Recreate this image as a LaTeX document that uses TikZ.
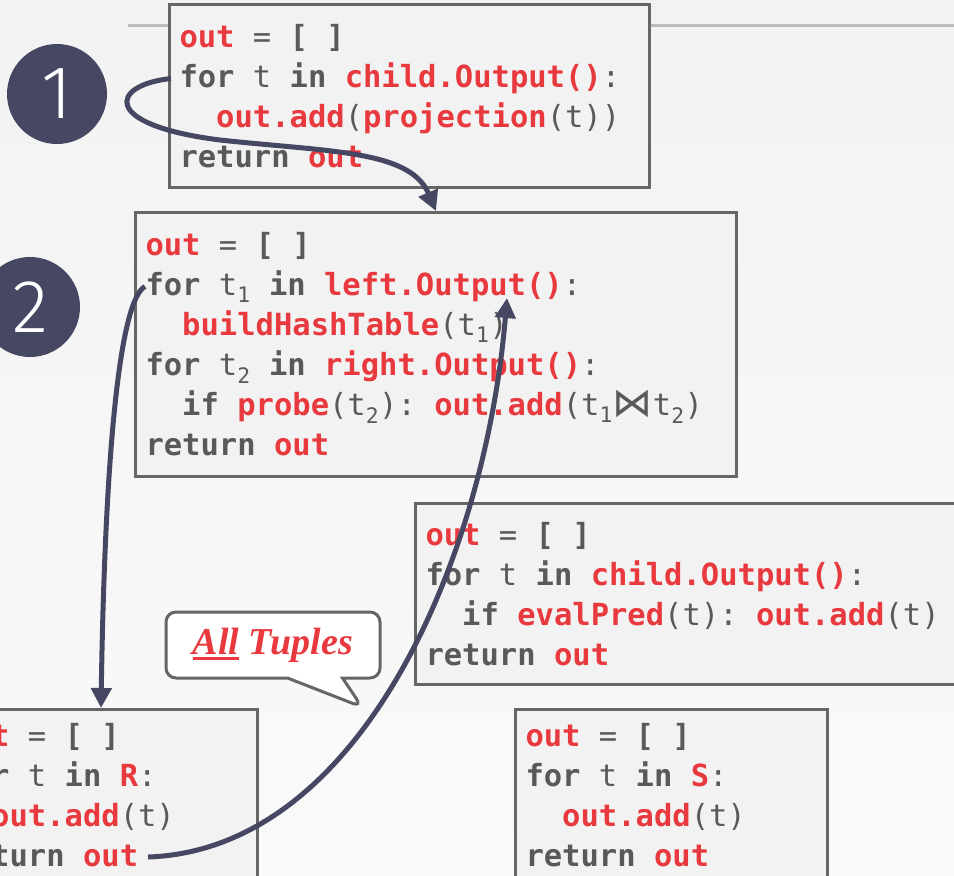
\documentclass[tikz,border=0pt]{standalone}
\usepackage{fontspec}
\setmonofont{DejaVu Sans Mono}
\newfontfamily\numfont{Fira Sans Light}
\newfontfamily\djv{DejaVu Sans}
\newfontfamily\calloutfont{Liberation Serif}
\usetikzlibrary{arrows.meta,shapes.callouts}

\definecolor{codered}{RGB}{232,58,62}
\definecolor{codegray}{RGB}{89,89,89}
\definecolor{boxline}{RGB}{102,102,102}
\definecolor{boxfill}{RGB}{242,242,242}
\definecolor{stepnavy}{RGB}{69,71,99}
\definecolor{ruler}{RGB}{187,187,187}

\DeclareRobustCommand{\codefont}{\fontsize{30.5}{40}\selectfont\ttfamily}
\newcommand{\kwd}[1]{\textbf{#1}}
\newcommand{\idf}[1]{\textcolor{codered}{\textbf{#1}}}
\newcommand{\tsub}[1]{\textsubscript{#1}}
\newcommand{\codeind}{\phantom{xx}}
\newcommand{\bowtiechar}{\raisebox{-1pt}{\djv\fontsize{40}{40}\selectfont ⋈}}
\newlength{\ulwidth}
\newcommand{\redul}[1]{\settowidth{\ulwidth}{#1}\rlap{\rule[-6pt]{\ulwidth}{3pt}}#1}

\begin{document}
\begin{tikzpicture}[x=1pt,y=-1pt,
  codebox/.style={draw=boxline,fill=boxfill,line width=3pt,anchor=north west,
    inner xsep=10pt,inner ysep=0pt,align=left,text=codegray,font=\codefont,
    execute at begin node={\spaceskip=0.602em\xspaceskip=0.602em\relax}},
  stepnum/.style={circle,fill=stepnavy,text=white,minimum size=100pt,inner sep=0pt,
    font=\numfont\fontsize{75}{75}\selectfont},
  tuplecallout/.style={rectangle callout,draw=boxline,fill=white,line width=3pt,
    rounded corners=10pt,minimum width=214pt,minimum height=66pt,
    callout absolute pointer={(362,707)},callout pointer width=55pt,
    text=codered,font=\calloutfont\bfseries\itshape\fontsize{38}{38}\selectfont},
  flow/.style={draw=stepnavy,line width=5pt,-{Triangle[length=20pt,width=20pt]}},
]
\useasboundingbox (0,0) rectangle (954,876);
\clip (0,0) rectangle (954,876);
\shade[top color=black!5,bottom color=black!2] (0,0) rectangle (954,876);
\draw[ruler,line width=3pt] (128,25) -- (954,25);

% operator boxes
\node[codebox,text width=460pt,minimum height=183pt] (p1) at (168,3)
  {\idf{out} = \kwd{[ ]}\\
   \kwd{for} t \kwd{in} \idf{child.Output()}:\\
   \codeind\idf{out.add}(\idf{projection}(t))\\
   \kwd{return} \idf{out}};
\node[codebox,text width=581pt,minimum height=264pt] (p2) at (134,211)
  {\idf{out} = \kwd{[ ]}\\
   \kwd{for} t\tsub{1} \kwd{in} \idf{left.Output()}:\\
   \codeind\idf{buildHashTable}(t\tsub{1})\\
   \kwd{for} t\tsub{2} \kwd{in} \idf{right.Output()}:\\
   \codeind\kwd{if} \idf{probe}(t\tsub{2}): \idf{out.add}(t\tsub{1}\bowtiechar t\tsub{2})\\
   \kwd{return} \idf{out}};
\node[codebox,text width=540pt,minimum height=181pt] (p3) at (414,502)
  {\idf{out} = \kwd{[ ]}\\
   \kwd{for} t \kwd{in} \idf{child.Output()}:\\
   \codeind\kwd{if} \idf{evalPred}(t): \idf{out.add}(t)\\
   \kwd{return} \idf{out}};
\node[codebox,text width=293pt,minimum height=172pt] (pR) at (-57,708)
  {\idf{out} = \kwd{[ ]}\\
   \kwd{for} t \kwd{in} \idf{R}:\\
   \codeind\idf{out.add}(t)\\
   \kwd{return} \idf{out}};
\node[codebox,text width=292pt,minimum height=172pt] (pS) at (514,708)
  {\idf{out} = \kwd{[ ]}\\
   \kwd{for} t \kwd{in} \idf{S}:\\
   \codeind\idf{out.add}(t)\\
   \kwd{return} \idf{out}};

% step markers
\node[stepnum] (s1) at (57,94) {1};
\node[stepnum] (s2) at (30,307) {2};

\node[tuplecallout] (tuples) at (273,645) {\redul{All} Tuples};

% control flow
\coordinate (retR) at (148,857);
\coordinate (probeIn) at (507,298);
\draw[flow] ([xshift=3pt,yshift=17.5pt]p1.west) .. controls (110,85) and (100,125) .. (220,140)
  .. controls (330,152) and (410,150) .. (p2.north);
\draw[flow] ([xshift=11pt,yshift=58pt]p2.west) .. controls (120,300) and (105,450) .. (pR.north);
\draw[flow] (retR) .. controls (360,850) and (485,560) .. (probeIn);
\end{tikzpicture}
\end{document}
